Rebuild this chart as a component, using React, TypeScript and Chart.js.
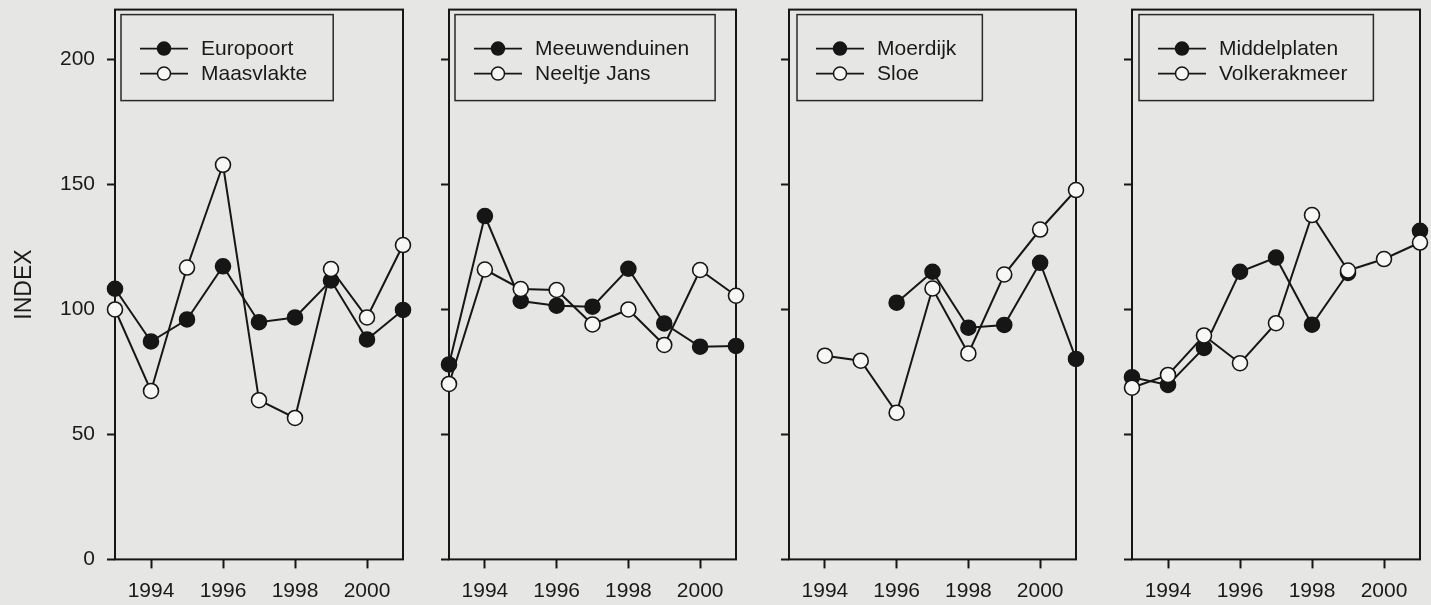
import React, { useEffect, useRef } from 'react';
import { Chart, registerables } from 'chart.js';

Chart.register(...registerables);

// ---------- data ----------
const years = [1993, 1994, 1995, 1996, 1997, 1998, 1999, 2000, 2001];
const xTickYears = [1994, 1996, 1998, 2000];
const yTickValues = [0, 50, 100, 150, 200];

const europoort = [108.3, 87.2, 96.0, 117.3, 94.9, 96.8, 111.6, 88.0, 99.8];
const maasvlakte = [100.0, 67.4, 116.8, 157.9, 63.7, 56.6, 116.2, 96.8, 125.8];

const meeuwenduinen = [78.0, 137.4, 103.4, 101.5, 101.1, 116.3, 94.4, 85.1, 85.4];
const neeltjeJans = [70.2, 116.0, 108.2, 107.8, 94.0, 100.0, 85.8, 115.8, 105.5];

const moerdijk = [null, null, null, 102.7, 115.1, 92.7, 93.8, 118.7, 80.2];
const sloe = [null, 81.5, 79.5, 58.7, 108.4, 82.4, 114.0, 132.0, 147.8];

const middelplaten = [72.9, 69.8, 84.6, 115.1, 120.8, 93.9, 114.6, null, 131.5];
const volkerakmeer = [68.7, 73.8, 89.6, 78.5, 94.5, 137.8, 115.6, 120.2, 126.8];

// ---------- style ----------
const FONT = '"Liberation Sans", Arial, Helvetica, sans-serif';
const INK = '#161616';
const TEXT = '#1a1a1a';
const BG = '#e6e6e4';
const OPEN_FILL = '#f7f7f5';
const CANVAS_H = 605;
const PLOT_TOP = 9.6;
const PLOT_BOTTOM = 559.4;
const PAD_RIGHT = 10;

type PanelDef = {
  plotLeft: number;
  plotRight: number;
  axisWidth: number;
  showLabels: boolean;
  legendDx: number;
  filledLabel: string;
  filledData: (number | null)[];
  openLabel: string;
  openData: (number | null)[];
};

const panels: PanelDef[] = [
  { plotLeft: 115, plotRight: 403, axisWidth: 115, showLabels: true, legendDx: 6,
    filledLabel: 'Europoort', filledData: europoort, openLabel: 'Maasvlakte', openData: maasvlakte },
  { plotLeft: 449, plotRight: 736, axisWidth: 20, showLabels: false, legendDx: 6,
    filledLabel: 'Meeuwenduinen', filledData: meeuwenduinen, openLabel: 'Neeltje Jans', openData: neeltjeJans },
  { plotLeft: 789, plotRight: 1076, axisWidth: 20, showLabels: false, legendDx: 8,
    filledLabel: 'Moerdijk', filledData: moerdijk, openLabel: 'Sloe', openData: sloe },
  { plotLeft: 1132, plotRight: 1420, axisWidth: 20, showLabels: false, legendDx: 7,
    filledLabel: 'Middelplaten', filledData: middelplaten, openLabel: 'Volkerakmeer', openData: volkerakmeer },
];

const toPoints = (vals: (number | null)[]) => years.map((yr, i) => ({ x: yr, y: vals[i] }));

const framePlugin = {
  id: 'frame',
  beforeDatasetsDraw(chart: any) {
    const { ctx, chartArea: a } = chart;
    ctx.save();
    ctx.strokeStyle = INK;
    ctx.lineWidth = 2;
    ctx.strokeRect(a.left, a.top, a.right - a.left, a.bottom - a.top);
    ctx.restore();
  },
};

const boxLegendPlugin = {
  id: 'boxLegend',
  afterDraw(chart: any, _args: any, opts: any) {
    const { ctx, chartArea: a } = chart;
    const items = opts.items as { label: string; filled: boolean }[];
    ctx.save();
    ctx.font = `21px ${FONT}`;
    const maxW = Math.max(...items.map((it) => ctx.measureText(it.label).width));
    const x0 = a.left + opts.dx;
    const y0 = a.top + 5;
    const w = 19 + 48 + 13 + maxW + 26;
    const h = 86;
    ctx.strokeStyle = '#2a2a2a';
    ctx.lineWidth = 1.5;
    ctx.strokeRect(x0, y0, w, h);
    items.forEach((it, i) => {
      const cy = y0 + 34 + i * 25;
      ctx.strokeStyle = INK;
      ctx.lineWidth = 1.8;
      ctx.beginPath();
      ctx.moveTo(x0 + 19, cy);
      ctx.lineTo(x0 + 67, cy);
      ctx.stroke();
      ctx.beginPath();
      ctx.arc(x0 + 43, cy, 6.5, 0, Math.PI * 2);
      ctx.fillStyle = it.filled ? INK : OPEN_FILL;
      ctx.fill();
      ctx.lineWidth = 1.5;
      ctx.stroke();
      ctx.fillStyle = TEXT;
      ctx.textBaseline = 'middle';
      ctx.textAlign = 'left';
      ctx.fillText(it.label, x0 + 80, cy + 1);
    });
    ctx.restore();
  },
};

function Panel({ p }: { p: PanelDef }) {
  const ref = useRef<HTMLCanvasElement | null>(null);
  const canvasLeft = p.plotLeft - p.axisWidth;
  const canvasWidth = p.plotRight + PAD_RIGHT - canvasLeft;

  useEffect(() => {
    if (!ref.current) return;
    const series = (data: (number | null)[], label: string, filled: boolean, order: number) => ({
      label,
      data: toPoints(data),
      order,
      borderColor: INK,
      borderWidth: 2,
      pointRadius: 7.5,
      pointBorderWidth: 1.6,
      pointBorderColor: INK,
      pointBackgroundColor: filled ? INK : OPEN_FILL,
      showLine: true,
      spanGaps: false,
      clip: false as const,
      tension: 0,
    });
    const chart = new Chart(ref.current, {
      type: 'line',
      data: {
        datasets: [
          series(p.filledData, p.filledLabel, true, 1),
          series(p.openData, p.openLabel, false, 0),
        ],
      },
      options: {
        animation: false,
        responsive: false,
        maintainAspectRatio: false,
        devicePixelRatio: 1,
        layout: { padding: { top: PLOT_TOP, right: PAD_RIGHT, bottom: 0, left: 0 } },
        plugins: {
          legend: { display: false },
          tooltip: { enabled: false },
          boxLegend: {
            dx: p.legendDx,
            items: [
              { label: p.filledLabel, filled: true },
              { label: p.openLabel, filled: false },
            ],
          },
        } as any,
        scales: {
          x: {
            type: 'linear',
            min: 1993,
            max: 2001,
            afterBuildTicks: (s: any) => {
              s.ticks = xTickYears.map((v) => ({ value: v }));
            },
            afterFit: (s: any) => {
              s.height = CANVAS_H - PLOT_BOTTOM;
              s.paddingLeft = 0;
              s.paddingRight = 0;
            },
            border: { display: false },
            grid: {
              drawOnChartArea: false,
              drawTicks: true,
              tickLength: 9,
              tickWidth: 2,
              tickColor: INK,
            },
            ticks: {
              autoSkip: false,
              maxRotation: 0,
              padding: 10,
              color: TEXT,
              font: { family: FONT, size: 21 },
              callback: (v: any) => String(v),
            },
          },
          y: {
            type: 'linear',
            min: 0,
            max: 220,
            afterBuildTicks: (s: any) => {
              s.ticks = yTickValues.map((v) => ({ value: v }));
            },
            afterFit: (s: any) => {
              s.width = p.axisWidth;
              s.paddingTop = 0;
              s.paddingBottom = 0;
            },
            border: { display: false },
            grid: {
              drawOnChartArea: false,
              drawTicks: true,
              tickLength: 8,
              tickWidth: 2,
              tickColor: INK,
            },
            ticks: {
              display: p.showLabels,
              padding: 12,
              color: TEXT,
              font: { family: FONT, size: 21 },
              callback: (v: any) => String(v),
            },
            title: {
              display: p.showLabels,
              text: 'INDEX',
              color: TEXT,
              font: { family: FONT, size: 23 },
              padding: { top: 11, bottom: 0 },
            },
          },
        },
      } as any,
      plugins: [framePlugin, boxLegendPlugin],
    });
    return () => chart.destroy();
  }, []);

  return (
    <canvas
      ref={ref}
      width={canvasWidth}
      height={CANVAS_H}
      style={{ position: 'absolute', left: canvasLeft, top: 0, width: canvasWidth, height: CANVAS_H }}
    />
  );
}

export default function App() {
  return (
    <div
      style={{
        position: 'fixed',
        left: 0,
        top: 0,
        width: 1431,
        height: 605,
        background: BG,
        overflow: 'hidden',
      }}
    >
      {panels.map((p, i) => (
        <Panel key={i} p={p} />
      ))}
    </div>
  );
}
